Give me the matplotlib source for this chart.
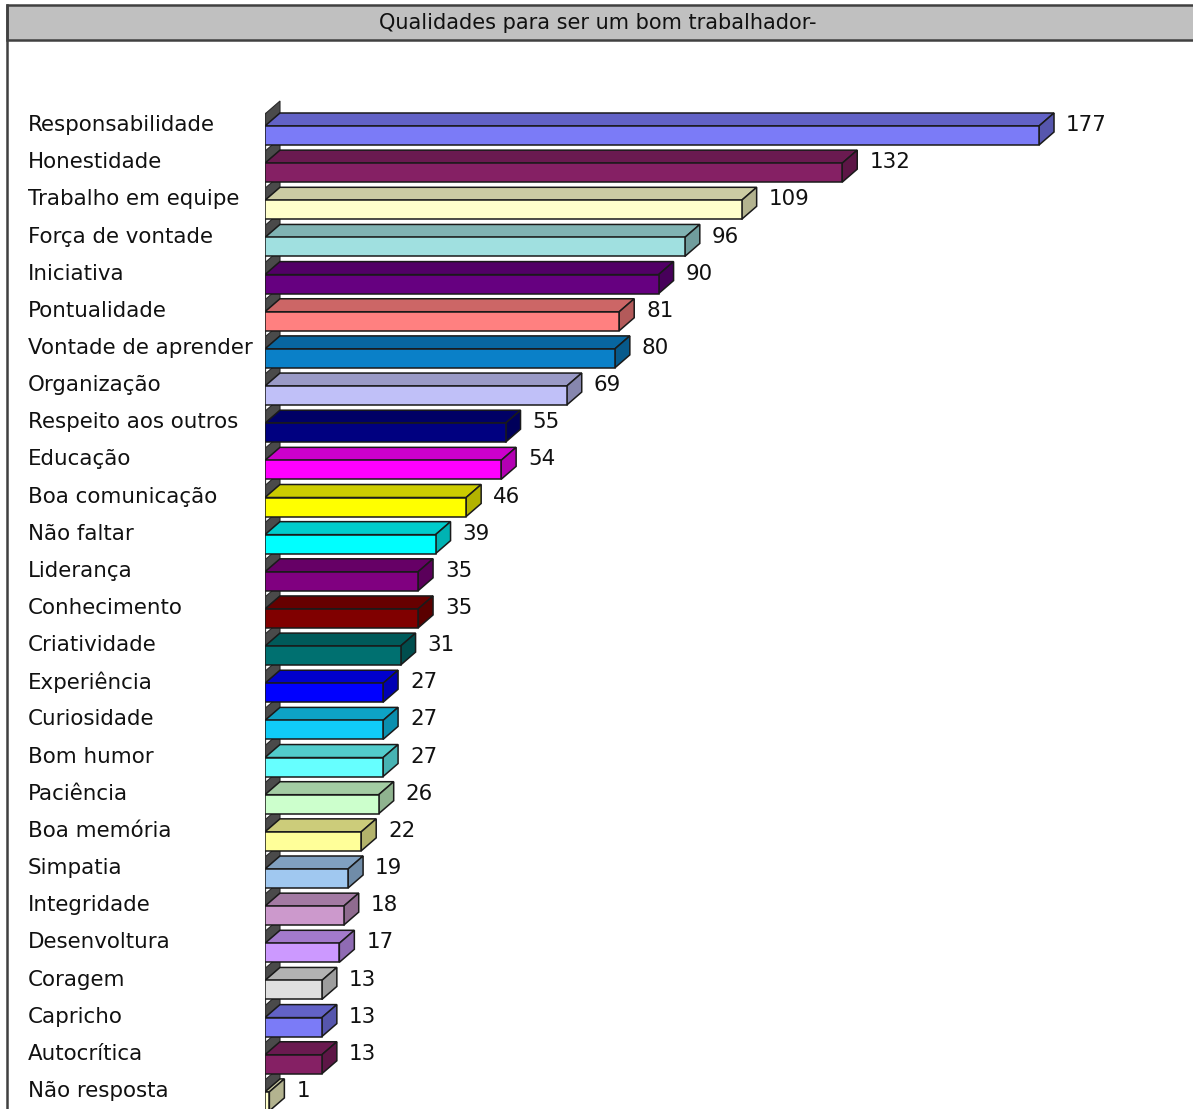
import matplotlib
matplotlib.use('Agg')
import matplotlib.pyplot as plt
import matplotlib.patches as mpatches
from matplotlib.colors import to_rgb
from matplotlib.transforms import blended_transform_factory
import numpy as np

# 数据
qualidades = [
    "Responsabilidade", "Honestidade", "Trabalho em equipe", "Força de vontade",
    "Iniciativa", "Pontualidade", "Vontade de aprender", "Organização",
    "Respeito aos outros", "Educação", "Boa comunicação", "Não faltar",
    "Liderança", "Conhecimento", "Criatividade", "Experiência", "Curiosidade",
    "Bom humor", "Paciência", "Boa memória", "Simpatia", "Integridade",
    "Desenvoltura", "Coragem", "Capricho", "Autocrítica", "Não resposta",
]
respostas = [177, 132, 109, 96, 90, 81, 80, 69, 55, 54, 46, 39, 35, 35, 31,
             27, 27, 27, 26, 22, 19, 18, 17, 13, 13, 13, 1]
cores = [
    "#7B7BF7", "#852064", "#FFFFCC", "#A0E0E0", "#660080", "#FF8080",
    "#0A80C8", "#C0C0F8", "#000080", "#FF00FF", "#FFFF00", "#00FFFF",
    "#800080", "#800000", "#007070", "#0000FF", "#10CCF8", "#66FFFF",
    "#CCFFCC", "#FFFF99", "#A0C8F0", "#CC99CC", "#CC99FF", "#E0E0E0",
    "#7B7BF7", "#852064", "#FFFFCC",
]
titulo = "Qualidades para ser um bom trabalhador-"

W, H = 1193, 1109
FONT = "DejaVu Sans"
EDGE = "#1a1a1a"


def shade(c, k):
    r, g, b = to_rgb(c)
    return (r * k, g * k, b * k)


fig = plt.figure(figsize=(W / 100, H / 100), dpi=100)
fig.patch.set_facecolor("white")

# moldura + barra de título
fig.patches.append(mpatches.Rectangle(
    (7 / W, 1 - 40 / H), 1.2, 35 / H, transform=fig.transFigure,
    facecolor="#C0C0C0", edgecolor="#404040", linewidth=1.8, zorder=1))
fig.add_artist(plt.Line2D([7 / W, 7 / W], [0, 1 - 5 / H],
                          transform=fig.transFigure, color="#404040", lw=1.8))
fig.text(598 / W, 1 - 23 / H, titulo, ha="center", va="center",
         fontsize=15, family=FONT, color="#111111")

# área do gráfico (eixo x = respostas, eixo y = posição da categoria)
px_x = 4.373          # pixels por resposta
px_row = 37.15        # pixels por linha
ax = fig.add_axes([265 / W, 0, (W - 265) / W, 1068 / H])
ax.set_xlim(0, (W - 265) / px_x)
ax.set_ylim((H - 135.5) / px_row, (41 - 135.5) / px_row)
ax.axis("off")

dx = 15 / px_x        # profundidade 3D
dy = 13 / px_row
h = 19 / px_row
wall = 12 / px_row

y = np.arange(len(respostas))
front = [shade(c, 1.0) for c in cores]

# parede lateral escura atrás de cada barra
for i in y:
    ft = i - h / 2
    bt = ft - dy
    ax.add_patch(mpatches.Polygon(
        [(0, ft), (dx, bt), (dx, bt - wall), (0, ft - wall)],
        closed=True, facecolor="#4a4a4a", edgecolor="#2a2a2a", lw=0.8, zorder=1))
ax.plot([0, 0], [-h / 2 - wall, y[-1] + 1], color="#303030", lw=1.6, zorder=1)

# faces frontais
ax.barh(y, respostas, height=h, color=front, edgecolor=EDGE, linewidth=1.1,
        zorder=3)

# faces de cima e laterais
for i, (v, c) in enumerate(zip(respostas, cores)):
    ft = i - h / 2
    fb = i + h / 2
    top = [(0, ft), (v, ft), (v + dx, ft - dy), (dx, ft - dy)]
    side = [(v, ft), (v + dx, ft - dy), (v + dx, fb - dy), (v, fb)]
    ax.add_patch(mpatches.Polygon(top, closed=True, facecolor=shade(c, 0.8),
                                  edgecolor=EDGE, lw=1.1, zorder=2 + i * 0.01))
    ax.add_patch(mpatches.Polygon(side, closed=True, facecolor=shade(c, 0.7),
                                  edgecolor=EDGE, lw=1.1, zorder=2 + i * 0.01))

# rótulos das categorias e valores
trans = blended_transform_factory(fig.transFigure, ax.transData)
for i, (nome, v) in enumerate(zip(qualidades, respostas)):
    ax.text(28 / W, i - 0.28, nome, transform=trans, ha="left", va="center",
            fontsize=15.4, family=FONT, color="#111111")
    ax.annotate(str(v), (v + dx, i - 0.28), xytext=(12, 0),
                textcoords="offset pixels", ha="left", va="center",
                fontsize=15.4, family=FONT, color="#111111")

fig.savefig("out.png", dpi=100, facecolor="white")
